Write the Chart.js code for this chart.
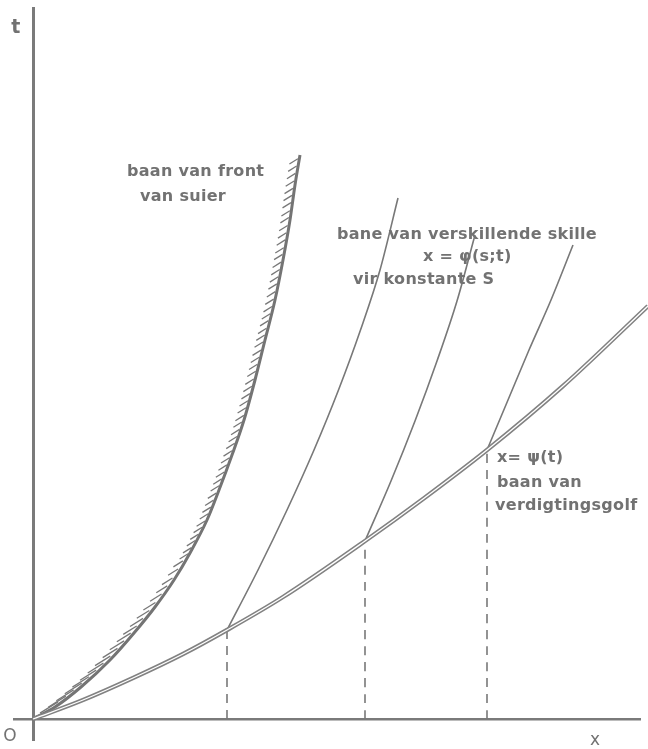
<!DOCTYPE html>
<html>
<head>
<meta charset="utf-8">
<script src="https://cdn.jsdelivr.net/npm/chart.js@4.4.0/dist/chart.umd.min.js"></script>
<style>
  html, body { margin: 0; background: #fff; }
  canvas { display: block; }
</style>
</head>
<body>
<canvas id="xt" width="648" height="749"></canvas>
<script>
// piston front x(t)
const pistonX = [0, 0.22, 0.48, 0.77, 1.01, 1.22, 1.41, 1.57, 1.74, 1.86, 1.99, 2.11, 2.22, 2.32, 2.42, 2.50, 2.57, 2.62, 2.67];
const pistonT = [0, 0.12, 0.32, 0.59, 0.86, 1.12, 1.39, 1.66, 1.99, 2.29, 2.64, 2.99, 3.39, 3.79, 4.19, 4.59, 4.99, 5.34, 5.64];

// compression wave x = psi(t)
const waveX = [0, 0.50, 1.00, 1.50, 1.94, 2.50, 3.32, 3.90, 4.54, 5.30, 6.15];
const waveT = [0, 0.19, 0.41, 0.65, 0.89, 1.22, 1.78, 2.20, 2.69, 3.33, 4.13];

// particle paths start where they cross the wave
const crossX = [1.94, 3.32, 4.54];
const crossT = [0.89, 1.78, 2.69];

// x = phi(s;t) for three constant s, above the wave
const path1X = [2.25, 2.54, 2.81, 3.055, 3.275, 3.47, 3.65];
const path1T = [1.49, 2.09, 2.69, 3.29, 3.89, 4.49, 5.21];
const path2X = [3.58, 3.82, 4.04, 4.24, 4.42];
const path2T = [2.38, 2.98, 3.58, 4.18, 4.84];
const path3X = [4.75, 4.96, 5.18, 5.40];
const path3T = [3.19, 3.69, 4.19, 4.74];

const GREY = '#787878';
const INK = '#727272';

const pts = (xs, ts) => xs.map((x, i) => ({ x, y: ts[i] }));

const paths = [[path1X, path1T], [path2X, path2T], [path3X, path3T]].map(([xs, ts], i) => ({
    label: 'skil ' + (i + 1),
    data: [{ x: crossX[i], y: crossT[i] }, ...pts(xs, ts)],
    borderColor: GREY,
    borderWidth: 1.6,
    order: 3,
}));

const drops = crossX.map((x, i) => ({
    label: 'drop ' + (i + 1),
    data: [{ x, y: 0 }, { x, y: crossT[i] }],
    borderColor: GREY,
    borderWidth: 1.6,
    borderDash: [9, 7],
    order: 4,
}));

// text notes, anchored in x,t units
const notes = [
    { text: 't', x: -0.17, t: 6.91, align: 'center', size: 19 },
    { text: 'O', x: -0.23, t: -0.18, align: 'center', size: 17, thin: true },
    { text: 'x', x: 5.62, t: -0.22, align: 'center', size: 17, thin: true },
    { text: 'baan van front', x: 0.94, t: 5.47 },
    { text: 'van suier', x: 1.07, t: 5.22 },
    { text: 'bane van verskillende skille', x: 3.04, t: 4.84 },
    { text: 'x = φ(s;t)', x: 3.90, t: 4.62 },
    { text: 'vir konstante S', x: 3.20, t: 4.39 },
    { text: 'x= ψ(t)', x: 4.64, t: 2.61 },
    { text: 'baan van', x: 4.64, t: 2.36 },
    { text: 'verdigtingsgolf', x: 4.62, t: 2.13 },
];

// short slanted strokes on the left side of the piston front
const hatching = {
    id: 'hatching',
    afterDatasetsDraw(chart) {
        const idx = chart.data.datasets.findIndex((d) => d.label === 'front');
        const el = chart.getDatasetMeta(idx).data;
        const samples = [];
        for (let i = 0; i < el.length - 1; i++) {
            const a = el[i], b = el[i + 1];
            const c1x = a.cp2x ?? a.x, c1y = a.cp2y ?? a.y;
            const c2x = b.cp1x ?? b.x, c2y = b.cp1y ?? b.y;
            for (let k = 0; k < 40; k++) {
                const u = k / 40, v = 1 - u;
                samples.push({
                    x: v * v * v * a.x + 3 * v * v * u * c1x + 3 * v * u * u * c2x + u * u * u * b.x,
                    y: v * v * v * a.y + 3 * v * v * u * c1y + 3 * v * u * u * c2y + u * u * u * b.y,
                });
            }
        }
        samples.push({ x: el[el.length - 1].x, y: el[el.length - 1].y });

        const ctx = chart.ctx;
        ctx.save();
        ctx.strokeStyle = GREY;
        ctx.lineWidth = 1.3;
        const ang = 32 * Math.PI / 180;
        let run = 0;
        let next = 30;
        for (let i = 1; i < samples.length; i++) {
            const p = samples[i - 1], q = samples[i];
            run += Math.hypot(q.x - p.x, q.y - p.y);
            if (run >= next) {
                const low = q.y > 560;
                const len = low ? 11 + (q.y - 560) / 14 : 10;
                const sy = q.y - (low ? 2 : 0);
                ctx.beginPath();
                ctx.moveTo(q.x - 1.5, sy);
                ctx.lineTo(q.x - 1.5 - len * Math.cos(ang), sy + len * Math.sin(ang));
                ctx.stroke();
                next += low ? 10 : 7.5;
            }
        }
        ctx.restore();
    },
};

const lettering = {
    id: 'lettering',
    afterDraw(chart) {
        const { ctx, scales } = chart;
        ctx.save();
        ctx.fillStyle = INK;
        ctx.textBaseline = 'middle';
        notes.forEach((n) => {
            ctx.font = (n.thin ? '' : 'bold ') + (n.size || 16) + 'px "DejaVu Sans"';
            ctx.letterSpacing = n.thin ? '0px' : '0.3px';
            ctx.textAlign = n.align || 'left';
            ctx.fillText(n.text, scales.x.getPixelForValue(n.x), scales.y.getPixelForValue(n.t));
        });
        ctx.restore();
    },
};

new Chart(document.getElementById('xt'), {
    type: 'scatter',
    data: {
        datasets: [
            {
                label: 'front',
                data: pts(pistonX, pistonT),
                borderColor: '#747474',
                borderWidth: 3,
                order: 2,
            },
            {
                label: 'golf gap',
                data: pts(waveX, waveT),
                borderColor: '#fff',
                borderWidth: 1.3,
                order: 0,
            },
            {
                label: 'golf',
                data: pts(waveX, waveT),
                borderColor: '#828282',
                borderWidth: 4.4,
                order: 1,
            },
            ...paths,
            ...drops,
        ].map((d) => ({ showLine: true, pointRadius: 0, clip: false, cubicInterpolationMode: 'monotone', ...d })),
    },
    options: {
        responsive: false,
        animation: false,
        events: [],
        layout: { padding: { left: 14, right: 8, top: 8, bottom: 9 } },
        plugins: { legend: { display: false }, tooltip: { enabled: false } },
        scales: {
            x: {
                type: 'linear',
                min: -0.19,
                max: 6.07,
                position: { y: 0 },
                grid: { display: false },
                ticks: { display: false },
                border: { display: true, color: '#7a7a7a', width: 2.5 },
            },
            y: {
                type: 'linear',
                min: -0.21,
                max: 7.11,
                position: { x: 0 },
                grid: { display: false },
                ticks: { display: false },
                border: { display: true, color: '#7a7a7a', width: 3 },
            },
        },
    },
    plugins: [hatching, lettering],
});
</script>
</body>
</html>
